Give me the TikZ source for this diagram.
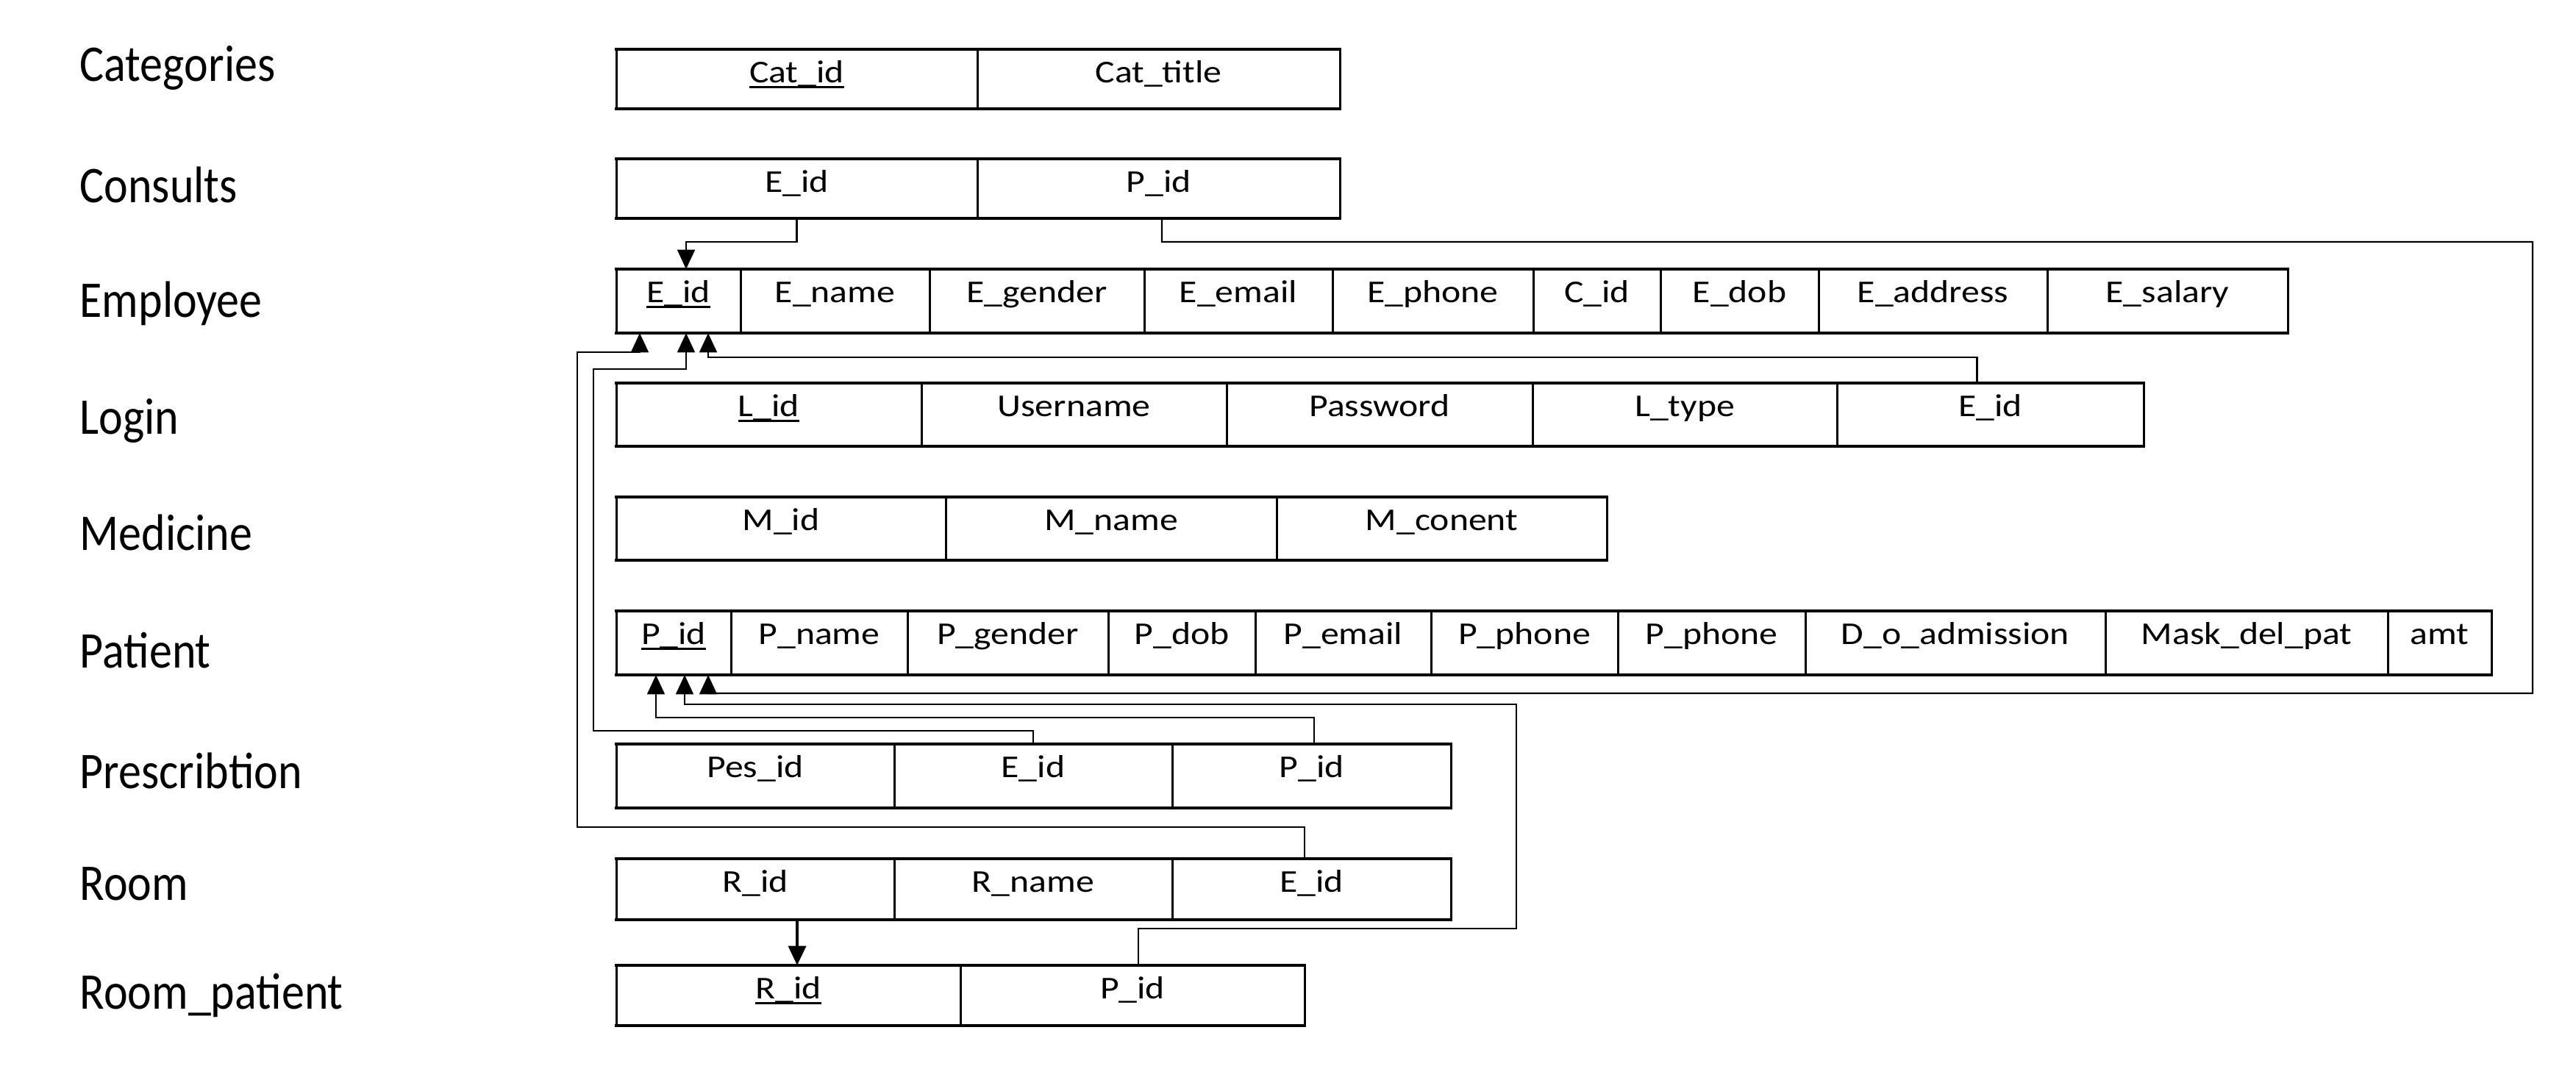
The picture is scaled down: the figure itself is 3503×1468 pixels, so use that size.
\documentclass[tikz,border=0pt]{standalone}
\usepackage{fontspec}
\setmainfont{Carlito}
\newfontfamily\cellfont[FakeStretch=1.15]{Carlito}
\newfontfamily\labfont[FakeStretch=0.886]{Carlito}
\usetikzlibrary{arrows.meta}
\newcommand{\tcell}[6]{%
  \pgfmathsetmacro{\tcWid}{(#3-#2)*0.01}%
  \pgfmathsetmacro{\tcDep}{(#5-#4-45)*0.01}%
  \node[cellbox, minimum width=\tcWid cm, text depth=\tcDep cm] (#1) at (#2,#4) {#6};}
\newcommand{\tborder}[2]{%
  \draw[thickline] (#1.north west) -- (#2.north east);
  \draw[thickline] (#1.south west) -- (#2.south east);}
\newcommand{\keyul}[1]{\setbox0\hbox{#1}\rlap{\rule[-0.075cm]{\wd0}{0.7pt}}\box0}
\begin{document}
\begin{tikzpicture}[x=0.01cm, y=-0.01cm,
  cellbox/.style={draw, line width=0.85pt, inner sep=0pt, outer sep=0pt,
    anchor=north west, text height=0.45cm, font=\cellfont\fontsize{12.3}{14}\selectfont},
  thickline/.style={line width=1.3pt, line cap=rect},
  conn/.style={line width=0.65pt},
  arr/.style={conn, -{Triangle[length=7.5pt,width=6.8pt]}},
  lab/.style={anchor=base west, inner sep=0pt, font=\labfont\fontsize{19.9}{22}\selectfont}]
\useasboundingbox (0,0) rectangle (3503,1468);
% labels
\node[lab] (lbCat) at (108,110) {Categories};
\node[lab] (lbCon) at (108,275) {Consults};
\node[lab] (lbEmp) at (108,431) {Employee};
\node[lab] (lbLog) at (108,590) {Login};
\node[lab] (lbMed) at (108,748) {Medicine};
\node[lab] (lbPat) at (108,908) {Patient};
\node[lab] (lbPre) at (108,1072) {Prescribtion};
\node[lab] (lbRoo) at (108,1224) {Room};
\node[lab] (lbRP) at (108,1372) {Room\_patient};
% Categories
\tcell{ca1}{838}{1329}{67}{148}{\keyul{Cat\_id}}
\tcell{ca2}{1329}{1822}{67}{148}{Cat\_title}
\tborder{ca1}{ca2}
% Consults
\tcell{cs1}{838}{1329}{216}{297}{E\_id}
\tcell{cs2}{1329}{1822}{216}{297}{P\_id}
\tborder{cs1}{cs2}
% Employee
\tcell{e1}{838}{1007}{366}{453}{\keyul{E\_id}}
\tcell{e2}{1007}{1264}{366}{453}{E\_name}
\tcell{e3}{1264}{1556}{366}{453}{E\_gender}
\tcell{e4}{1556}{1812}{366}{453}{E\_email}
\tcell{e5}{1812}{2085}{366}{453}{E\_phone}
\tcell{e6}{2085}{2258}{366}{453}{C\_id}
\tcell{e7}{2258}{2473}{366}{453}{E\_dob}
\tcell{e8}{2473}{2784}{366}{453}{E\_address}
\tcell{e9}{2784}{3111}{366}{453}{E\_salary}
\tborder{e1}{e9}
% Login
\tcell{l1}{838}{1253}{521}{607}{\keyul{L\_id}}
\tcell{l2}{1253}{1668}{521}{607}{Username}
\tcell{l3}{1668}{2084}{521}{607}{Password}
\tcell{l4}{2084}{2498}{521}{607}{L\_type}
\tcell{l5}{2498}{2915}{521}{607}{E\_id}
\tborder{l1}{l5}
% Medicine
\tcell{m1}{838}{1286}{676}{762}{M\_id}
\tcell{m2}{1286}{1736}{676}{762}{M\_name}
\tcell{m3}{1736}{2185}{676}{762}{M\_conent}
\tborder{m1}{m3}
% Patient
\tcell{p1}{838}{994}{831}{918}{\keyul{P\_id}}
\tcell{p2}{994}{1234}{831}{918}{P\_name}
\tcell{p3}{1234}{1507}{831}{918}{P\_gender}
\tcell{p4}{1507}{1707}{831}{918}{P\_dob}
\tcell{p5}{1707}{1946}{831}{918}{P\_email}
\tcell{p6}{1946}{2200}{831}{918}{P\_phone}
\tcell{p7}{2200}{2455}{831}{918}{P\_phone}
\tcell{p8}{2455}{2863}{831}{918}{D\_o\_admission}
\tcell{p9}{2863}{3247}{831}{918}{Mask\_del\_pat}
\tcell{p10}{3247}{3388}{831}{918}{amt}
\tborder{p1}{p10}
% Prescribtion
\tcell{pr1}{838}{1216}{1012}{1099}{Pes\_id}
\tcell{pr2}{1216}{1594}{1012}{1099}{E\_id}
\tcell{pr3}{1594}{1973}{1012}{1099}{P\_id}
\tborder{pr1}{pr3}
% Room
\tcell{rm1}{838}{1216}{1168}{1251}{R\_id}
\tcell{rm2}{1216}{1594}{1168}{1251}{R\_name}
\tcell{rm3}{1594}{1973}{1168}{1251}{E\_id}
\tborder{rm1}{rm3}
% Room_patient
\tcell{rp1}{838}{1306}{1313}{1395}{\keyul{R\_id}}
\tcell{rp2}{1306}{1774}{1313}{1395}{P\_id}
\tborder{rp1}{rp2}
% connectors
\draw[arr] (cs1.south) -- ++(0,32) -| ([xshift=0.105cm]e1.north);
\draw[arr] ([xshift=0.045cm]cs2.south) -- ++(0,32) -- (3444,329) -- (3444,943) -| ([xshift=0.47cm]p1.south);
\draw[arr] ([xshift=-0.18cm]l5.north) -- ++(0,-35) -| ([xshift=0.405cm]e1.south);
\draw[arr] (pr2.north) -- ++(0,-18) -- (807,994) -- (807,502) -| ([xshift=0.105cm]e1.south);
\draw[arr] ([xshift=-0.095cm]rm3.north) -- ++(0,-43) -- (785,1125) -- (785,479) -| ([xshift=-0.525cm]e1.south);
\draw[arr] ([xshift=0.035cm]pr3.north) -- ++(0,-36) -| ([xshift=-0.24cm]p1.south);
\draw[arr] ([xshift=0.08cm]rp2.north) -- ++(0,-50) -- (2062,1263) -- (2062,958) -| ([xshift=0.15cm]p1.south);
\draw[arr, line width=1.1pt] ([xshift=0.57cm]rm1.south) -- ([xshift=0.12cm]rp1.north);
\end{tikzpicture}
\end{document}
